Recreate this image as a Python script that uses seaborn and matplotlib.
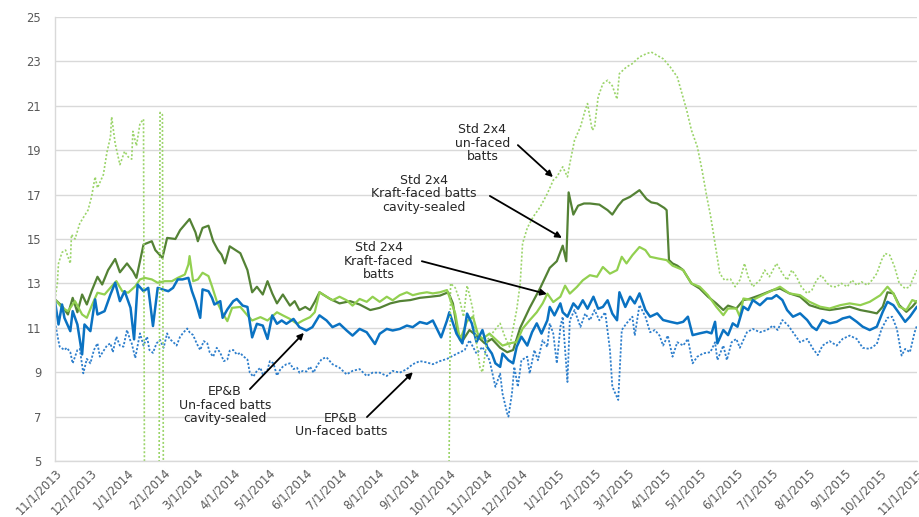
import numpy as np
import pandas as pd
import matplotlib
matplotlib.use("Agg")
import matplotlib.pyplot as plt
import seaborn as sns

START = "2013-11-01"

# ---- Std 2x4 Kraft-faced batts cavity-sealed (dark green) ----
kfcs_day = [0, 6, 11, 15, 19, 23, 27, 31, 36, 40, 45, 51, 55, 61, 66, 69, 75, 82, 85, 91, 95, 102, 106, 110,
            114, 119, 121, 125, 130, 134, 138, 141, 144, 148, 157, 163, 167, 171, 176, 180, 184, 188, 193, 199,
            203, 207, 212, 216, 220, 224, 233, 241, 250, 258, 267, 275, 284, 292, 301, 309, 318, 326, 333, 337,
            341, 345, 351, 358, 364, 370, 377, 383, 388, 394, 402, 411, 419, 425, 430, 433, 435, 439, 443, 448,
            453, 461, 468, 472, 477, 481, 487, 491, 495, 501, 505, 510, 516, 518, 520, 523, 527, 532, 539, 546,
            553, 560, 566, 570, 577, 583, 588, 597, 608, 614, 622, 631, 639, 648, 656, 665, 673, 682, 690, 696,
            701, 705, 710, 715, 721, 726, 730]
kfcs_val = [12.28, 11.98, 11.6, 12.35, 11.7, 12.5, 12.05, 12.65, 13.3, 12.95, 13.6, 14.1, 13.5, 13.9, 13.55,
            13.25, 14.75, 14.9, 14.5, 14.15, 15.05, 15.0, 15.4, 15.65, 15.9, 15.3, 14.9, 15.5, 15.6, 14.9, 14.5,
            14.3, 13.9, 14.67, 14.36, 13.6, 12.6, 12.85, 12.5, 13.1, 12.55, 12.1, 12.5, 12.0, 12.2, 11.8, 11.94,
            11.8, 12.17, 12.6, 12.3, 12.1, 12.2, 12.05, 11.8, 11.9, 12.1, 12.2, 12.25, 12.35, 12.4, 12.45, 12.6,
            12.1, 10.8, 10.4, 10.9, 10.6, 10.3, 10.5, 10.1, 9.9, 10.0, 11.0, 11.9, 12.8, 13.7, 14.0, 14.7, 14.0,
            17.1, 16.1, 16.5, 16.6, 16.6, 16.55, 16.3, 16.1, 16.5, 16.75, 16.9, 17.05, 17.2, 16.8, 16.65, 16.6,
            16.4, 16.3, 14.05, 13.9, 13.8, 13.6, 13.0, 12.77, 12.4, 12.1, 11.8, 12.0, 11.87, 12.25, 12.3, 12.47,
            12.7, 12.77, 12.55, 12.4, 12.02, 11.87, 11.8, 11.87, 11.95, 11.8, 11.72, 11.65, 11.95, 12.6, 12.55,
            12.02, 11.72, 11.95, 12.2]

# ---- Std 2x4 Kraft-faced batts (light green) ----
kf_day = [0, 6, 11, 17, 23, 27, 31, 36, 42, 48, 52, 57, 62, 68, 72, 76, 82, 87, 93, 99, 104, 110, 113, 114,
          117, 121, 125, 130, 133, 137, 141, 146, 150, 157, 163, 167, 174, 180, 188, 193, 199, 205, 210, 216,
          220, 224, 230, 235, 241, 247, 252, 258, 264, 269, 275, 281, 286, 292, 298, 303, 309, 315, 320, 326,
          332, 336, 339, 343, 349, 354, 358, 362, 368, 374, 379, 385, 391, 396, 402, 408, 413, 417, 422, 428,
          432, 436, 442, 447, 453, 459, 464, 470, 476, 480, 484, 489, 495, 500, 504, 511, 518, 523, 532, 539,
          546, 553, 560, 566, 570, 577, 580, 583, 591, 599, 608, 614, 622, 631, 639, 648, 656, 665, 673, 682,
          690, 699, 705, 710, 715, 721, 726, 730]
kf_val = [12.28, 11.9, 11.75, 12.2, 11.6, 11.45, 11.98, 12.58, 12.5, 12.87, 13.1, 12.65, 12.58, 12.87, 13.18,
          13.25, 13.18, 13.03, 13.1, 13.1, 13.25, 13.4, 13.85, 14.23, 13.1, 13.18, 13.48, 13.33, 12.87, 12.2,
          11.75, 11.3, 11.9, 11.94, 11.56, 11.33, 11.48, 11.33, 11.7, 11.56, 11.4, 11.18, 11.33, 11.48, 11.7,
          12.6, 12.4, 12.24, 12.4, 12.24, 12.0, 12.3, 12.17, 12.4, 12.17, 12.4, 12.24, 12.47, 12.6, 12.47, 12.55,
          12.6, 12.55, 12.6, 12.7, 12.1, 11.64, 10.44, 11.3, 11.5, 10.74, 10.5, 10.74, 10.44, 10.2, 10.3, 10.36,
          10.96, 11.34, 11.7, 12.1, 12.54, 12.16, 12.4, 12.9, 12.54, 12.84, 13.14, 13.37, 13.3, 13.74, 13.44,
          13.6, 14.2, 13.9, 14.27, 14.64, 14.5, 14.2, 14.12, 14.05, 13.8, 13.6, 13.0, 12.85, 12.47, 11.95,
          11.57, 11.87, 11.87, 11.5, 12.32, 12.25, 12.47, 12.7, 12.85, 12.55, 12.47, 12.17, 11.95, 11.87,
          12.02, 12.1, 12.02, 12.17, 12.47, 12.85, 12.55, 11.95, 11.8, 12.25, 12.17]

# ---- EP&B Un-faced batts cavity-sealed (blue solid) ----
epcs_day = [0, 3, 6, 8, 13, 15, 19, 23, 25, 30, 34, 36, 42, 47, 51, 55, 59, 64, 67, 70, 75, 79, 83, 87, 91,
            96, 100, 104, 108, 113, 116, 119, 123, 125, 130, 133, 135, 140, 142, 146, 151, 154, 159, 163, 167,
            171, 176, 180, 184, 188, 192, 196, 202, 207, 213, 218, 224, 230, 235, 241, 247, 252, 258, 264, 271,
            275, 281, 286, 292, 298, 303, 309, 315, 320, 327, 332, 334, 340, 345, 349, 353, 357, 362, 366, 370,
            373, 377, 379, 384, 388, 391, 395, 400, 404, 408, 412, 417, 419, 423, 428, 430, 434, 439, 443, 447,
            451, 456, 460, 464, 468, 472, 476, 478, 483, 487, 491, 495, 500, 504, 510, 515, 521, 527, 532, 536,
            540, 546, 552, 556, 559, 561, 566, 570, 574, 578, 583, 587, 591, 597, 603, 607, 611, 616, 620, 625,
            631, 637, 641, 645, 650, 656, 662, 667, 673, 679, 684, 690, 696, 701, 705, 710, 715, 720, 724, 728,
            730]
epcs_val = [12.2, 11.15, 12.05, 11.45, 10.85, 11.75, 11.15, 9.8, 11.15, 10.85, 12.28, 11.6, 11.75, 12.5,
            13.03, 12.2, 12.65, 11.9, 10.48, 12.95, 12.65, 12.8, 11.08, 12.8, 12.73, 12.65, 12.8, 13.18, 13.18,
            13.25, 12.65, 12.2, 11.45, 12.73, 12.65, 12.35, 12.05, 12.2, 11.45, 11.83, 12.2, 12.3, 12.0, 11.94,
            10.57, 11.18, 11.1, 10.5, 11.56, 11.18, 11.33, 11.18, 11.4, 11.03, 10.88, 11.03, 11.56, 11.33, 11.03,
            11.18, 10.88, 10.65, 10.95, 10.8, 10.27, 10.73, 10.95, 10.88, 10.95, 11.1, 11.03, 11.26, 11.18,
            11.33, 10.57, 11.33, 11.7, 10.74, 10.3, 11.64, 11.2, 10.36, 10.9, 10.14, 9.84, 9.4, 9.24, 9.84,
            9.54, 9.4, 10.14, 10.6, 10.2, 10.8, 11.2, 10.74, 11.34, 11.94, 11.56, 12.1, 11.7, 11.5, 12.1, 11.86,
            12.24, 11.86, 12.4, 11.86, 11.94, 12.24, 11.64, 11.34, 12.6, 11.94, 12.4, 12.1, 12.55, 11.8, 11.5,
            11.65, 11.35, 11.27, 11.2, 11.27, 11.5, 10.67, 10.75, 10.82, 10.75, 11.27, 10.3, 10.9, 10.67, 11.2,
            11.05, 11.95, 11.8, 12.25, 12.02, 12.32, 12.32, 12.47, 12.25, 11.8, 11.5, 11.65, 11.35, 11.05, 10.9,
            11.35, 11.2, 11.27, 11.42, 11.5, 11.27, 11.05, 10.9, 11.05, 11.72, 12.17, 12.02, 11.65, 11.27, 11.5,
            11.8, 11.95]

# ---- EP&B Un-faced batts (blue dotted) ----
ep_day = [0, 3, 4, 8, 10, 13, 15, 19, 21, 24, 27, 30, 33, 36, 38, 41, 44, 47, 49, 52, 55, 58, 61, 64, 65, 68,
          72, 75, 78, 80, 83, 86, 89, 92, 95, 97, 100, 103, 106, 109, 112, 114, 117, 120, 123, 126, 129, 131,
          134, 137, 140, 143, 146, 148, 151, 154, 157, 159, 163, 165, 168, 171, 174, 176, 180, 182, 185, 188,
          191, 193, 196, 199, 202, 205, 207, 210, 213, 216, 219, 222, 226, 230, 235, 241, 247, 252, 258, 264,
          269, 275, 281, 286, 292, 298, 303, 309, 315, 320, 326, 332, 337, 343, 347, 351, 357, 362, 368, 373,
          377, 379, 383, 384, 387, 389, 392, 395, 400, 402, 406, 409, 413, 417, 419, 422, 425, 428, 430, 434,
          436, 440, 445, 449, 453, 457, 461, 466, 470, 472, 477, 480, 484, 489, 491, 495, 500, 504, 508, 512,
          515, 519, 523, 527, 532, 536, 540, 544, 549, 555, 559, 561, 566, 569, 573, 577, 580, 586, 591, 597,
          603, 608, 612, 616, 621, 625, 631, 637, 642, 646, 650, 656, 662, 667, 673, 679, 684, 690, 696, 700,
          705, 709, 713, 717, 720, 724, 728, 730]
ep_val = [11.27, 10.4, 10.15, 10.0, 10.1, 9.9, 9.4, 10.0, 10.05, 8.95, 9.6, 9.4, 10.0, 10.3, 9.7, 9.95, 10.2,
          10.3, 9.9, 10.6, 10.2, 10.15, 10.9, 10.4, 10.3, 9.64, 10.75, 10.2, 10.6, 10.0, 9.87, 10.3, 10.45, 10.1,
          10.75, 10.5, 10.37, 10.2, 10.6, 10.8, 10.97, 10.8, 10.67, 10.3, 10.0, 10.4, 10.3, 9.9, 9.7, 10.1, 9.87,
          9.5, 9.57, 9.97, 10.0, 9.8, 9.87, 9.74, 9.57, 8.98, 8.8, 9.06, 9.2, 8.9, 9.1, 9.5, 9.4, 8.85, 9.14,
          9.25, 9.36, 9.4, 9.14, 9.2, 8.98, 9.06, 9.03, 9.25, 8.98, 9.3, 9.6, 9.67, 9.36, 9.2, 8.9, 9.06, 9.14,
          8.83, 8.98, 8.98, 8.83, 9.06, 8.98, 9.14, 9.36, 9.5, 9.44, 9.36, 9.5, 9.6, 9.74, 9.9, 10.0, 10.44,
          9.84, 10.14, 9.54, 8.34, 8.94, 8.04, 7.14, 7.0, 8.04, 9.24, 8.34, 9.54, 9.7, 8.94, 10.0, 9.54, 10.44,
          10.14, 11.2, 10.74, 9.4, 11.04, 11.5, 8.56, 11.34, 11.8, 11.04, 11.64, 11.34, 11.8, 11.34, 11.7, 10.0,
          8.35, 7.75, 10.9, 11.2, 11.5, 10.65, 12.03, 11.5, 10.8, 10.9, 10.65, 10.2, 10.65, 9.7, 10.35, 10.2,
          10.5, 9.4, 9.7, 9.85, 9.9, 10.35, 9.55, 10.2, 9.55, 10.35, 10.5, 10.1, 10.8, 10.95, 10.8, 10.9, 11.1,
          10.9, 11.35, 11.1, 10.8, 10.35, 10.5, 10.05, 9.77, 10.2, 10.4, 10.2, 10.5, 10.65, 10.5, 10.1, 10.05,
          10.27, 10.95, 11.45, 11.5, 10.95, 9.75, 10.05, 9.9, 10.8, 11.1]

# ---- Std 2x4 un-faced batts (light green dotted) ----
uf_day = [0, 2, 3, 6, 9, 13, 14, 17, 21, 25, 28, 31, 34, 36, 41, 44, 47, 48, 51, 55, 59, 62, 65, 66, 69, 72,
          75, 76, 88, 89, 91, 92, 333, 335, 339, 343, 346, 349, 351, 354, 357, 360, 362, 366, 371, 377, 381,
          385, 391, 394, 396, 400, 405, 411, 417, 422, 425, 430, 434, 436, 440, 445, 449, 451, 455, 457, 460,
          464, 468, 472, 476, 478, 484, 489, 495, 501, 505, 510, 515, 521, 527, 531, 535, 539, 544, 548, 552,
          555, 559, 563, 567, 572, 576, 580, 584, 587, 591, 597, 601, 605, 611, 616, 620, 624, 628, 632, 637,
          641, 645, 649, 654, 658, 662, 666, 671, 675, 679, 683, 688, 692, 696, 700, 703, 707, 711, 715, 720,
          724, 726, 730]
uf_val = [12.25, 13.0, 13.9, 14.4, 14.5, 13.9, 15.2, 15.0, 15.7, 16.05, 16.3, 16.9, 17.8, 17.3, 17.9, 18.9,
          19.6, 20.5, 19.3, 18.35, 18.95, 18.7, 18.6, 19.85, 19.2, 20.2, 20.4, 0.0, 0.0, 20.7, 20.6, 0.0, 0.0,
          13.0, 12.8, 12.2, 11.5, 12.9, 12.5, 11.8, 10.3, 9.2, 9.0, 10.44, 10.8, 11.2, 10.6, 10.14, 11.8, 13.0,
          14.8, 15.5, 16.0, 16.45, 17.05, 17.65, 17.8, 18.25, 17.8, 18.4, 19.45, 20.05, 20.8, 21.1, 19.9,
          20.05, 21.4, 22.0, 22.15, 21.9, 21.3, 22.45, 22.75, 22.9, 23.2, 23.35, 23.42, 23.27, 23.12, 22.75,
          22.3, 21.55, 20.8, 19.9, 19.15, 18.1, 16.9, 16.1, 14.8, 13.45, 13.15, 13.2, 12.85, 13.15, 13.9, 13.3,
          12.85, 13.15, 13.6, 13.3, 13.9, 13.45, 13.15, 13.6, 13.3, 12.85, 12.55, 12.7, 13.15, 13.37, 13.0,
          12.85, 12.85, 13.0, 12.85, 13.15, 12.92, 13.07, 12.92, 13.15, 13.45, 14.05, 14.35, 14.27, 13.75,
          13.0, 12.77, 12.85, 13.15, 13.6]

tick_labels = ["11/1/2013", "12/1/2013", "1/1/2014", "2/1/2014", "3/1/2014", "4/1/2014", "5/1/2014",
               "6/1/2014", "7/1/2014", "8/1/2014", "9/1/2014", "10/1/2014", "11/1/2014", "12/1/2014",
               "1/1/2015", "2/1/2015", "3/1/2015", "4/1/2015", "5/1/2015", "6/1/2015", "7/1/2015",
               "8/1/2015", "9/1/2015", "10/1/2015", "11/1/2015"]
y_ticks = [5, 7, 9, 11, 13, 15, 17, 19, 21, 23, 25]

# annotation texts: (text, text pos (day, value), arrow start (day, value), arrow end (day, value))
annotations = [
    ("Std 2x4\nun-faced\nbatts", (362, 19.32), (392, 19.23), (421.7, 17.79)),
    ("Std 2x4\nKraft-faced batts\ncavity-sealed", (312.4, 17.03), (368.3, 16.94), (429.3, 15.05)),
    ("Std 2x4\nKraft-faced\nbatts", (274.3, 14.0), (310.7, 14.0), (416.6, 12.52)),
    ("EP&B\nUn-faced batts\ncavity-sealed", (143.9, 7.52), (165.1, 8.24), (210.8, 10.77)),
    ("EP&B\nUn-faced batts", (242.2, 6.62), (264.2, 6.98), (303.1, 9.0)),
]

start = pd.Timestamp(START)


def to_date(d):
    return start + pd.to_timedelta(d, unit="D")


sns.set_theme(style="white")
plt.rcParams["font.family"] = ["DejaVu Sans"]

fig, ax = plt.subplots(figsize=(9.19, 5.17), dpi=100)
fig.subplots_adjust(left=0.0598, right=0.9978, top=0.9671, bottom=0.1083)

series = [
    (kfcs_day, kfcs_val, "#548235", 1.6, "-"),
    (kf_day, kf_val, "#92D050", 1.6, "-"),
    (epcs_day, epcs_val, "#0A72C2", 1.8, "-"),
    (ep_day, ep_val, "#2E7FCC", 1.3, (0, (1.2, 1.0))),
    (uf_day, uf_val, "#9BD46A", 1.2, (0, (1.2, 1.2))),
]
for days, vals, col, lw, ls in series:
    df = pd.DataFrame({"date": to_date(np.array(days, dtype=float)), "value": vals})
    sns.lineplot(data=df, x="date", y="value", ax=ax, color=col, linewidth=lw,
                 linestyle=ls, errorbar=None, sort=False)

ax.set_xlim(start, pd.Timestamp("2015-11-01"))
ax.set_ylim(5, 25)
ax.set_yticks(y_ticks)
ax.set_yticklabels([str(v) for v in y_ticks])
tick_dates = pd.to_datetime(tick_labels, format="%m/%d/%Y")
ax.set_xticks(tick_dates)
ax.set_xticklabels(tick_labels, rotation=45, ha="right", rotation_mode="anchor")
ax.set_xlabel("")
ax.set_ylabel("")
ax.grid(axis="y", color="#D9D9D9", linewidth=1.0)
ax.grid(axis="x", visible=False)
ax.set_axisbelow(True)
for s in ["top", "right"]:
    ax.spines[s].set_visible(False)
for s in ["left", "bottom"]:
    ax.spines[s].set_color("#D9D9D9")
    ax.spines[s].set_linewidth(1.0)
ax.tick_params(axis="both", length=0, colors="#595959", labelsize=8.3)
ax.tick_params(axis="y", pad=10)
ax.tick_params(axis="x", pad=4)

for txt, tpos, a0, a1 in annotations:
    ax.text(to_date(tpos[0]), tpos[1], txt, ha="center", va="center", fontsize=9,
            color="#262626", linespacing=1.05)
    ax.annotate("", xy=(to_date(a1[0]), a1[1]), xytext=(to_date(a0[0]), a0[1]),
                arrowprops=dict(arrowstyle="-|>", color="black", lw=1.3, mutation_scale=9,
                                shrinkA=0, shrinkB=0))

fig.savefig("out.png", dpi=100)
